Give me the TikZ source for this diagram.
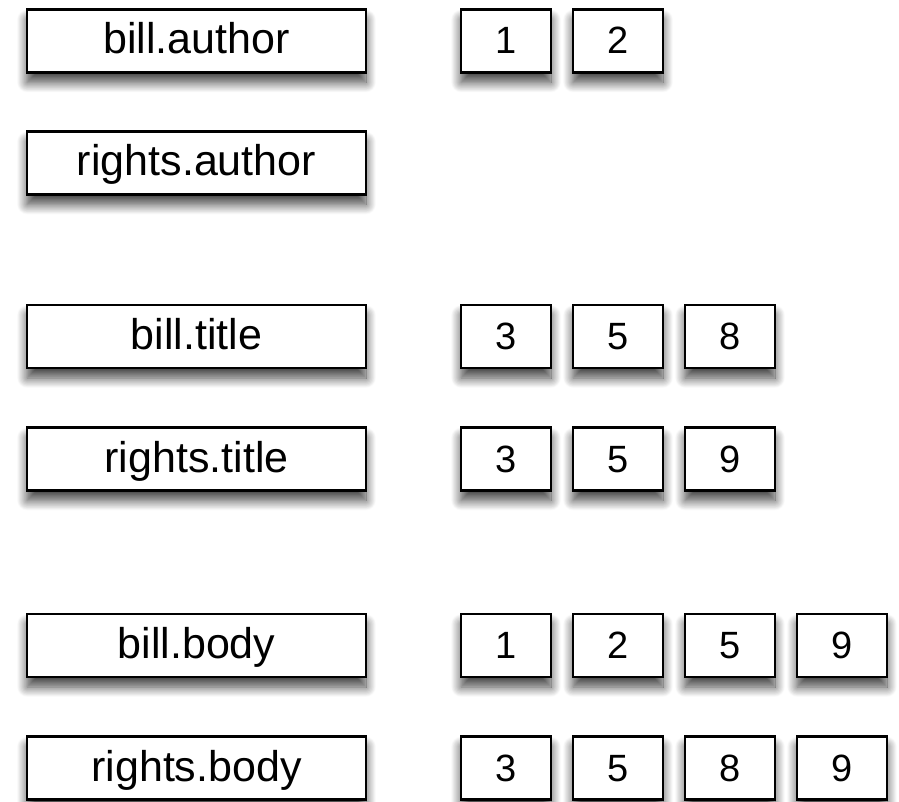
\documentclass[tikz,border=0pt]{standalone}
\usepackage{fontspec}
\setmainfont{Liberation Sans}
\usetikzlibrary{shadows.blur}
\begin{document}
\begin{tikzpicture}[x=1pt,y=-1pt,
  boxstyle/.style={draw=black,line width=2.2pt,fill=white,
    blur shadow={shadow xshift=0pt,shadow yshift=-10pt,shadow blur radius=10pt,shadow opacity=75,shadow blur steps=16},
    inner sep=0pt,text height=30pt,text depth=4pt},
  wide/.style={boxstyle,minimum width=339pt,minimum height=63pt,font=\fontsize{43}{43}\selectfont},
  small/.style={boxstyle,minimum width=90pt,minimum height=63pt,font=\fontsize{38}{38}\selectfont}]
\useasboundingbox (0,0) rectangle (899,802);
% rows (centre y)
\node[wide] (ba) at (196.5,41) {bill.author};
\node[wide] (ra) at (196.5,163) {rights.author};
\node[wide] (bt) at (196.5,336.5) {bill.title};
\node[wide] (rt) at (196.5,459) {rights.title};
\node[wide] (bb) at (196.5,645.5) {bill.body};
\node[wide] (rb) at (196.5,768) {rights.body};
% numbers
\node[small] (ba1) at (506,41) {1};
\node[small] (ba2) at (618,41) {2};
\node[small] (bt1) at (506,336.5) {3};
\node[small] (bt2) at (618,336.5) {5};
\node[small] (bt3) at (730,336.5) {8};
\node[small] (rt1) at (506,459) {3};
\node[small] (rt2) at (618,459) {5};
\node[small] (rt3) at (730,459) {9};
\node[small] (bb1) at (506,645.5) {1};
\node[small] (bb2) at (618,645.5) {2};
\node[small] (bb3) at (730,645.5) {5};
\node[small] (bb4) at (842,645.5) {9};
\node[small] (rb1) at (506,768) {3};
\node[small] (rb2) at (618,768) {5};
\node[small] (rb3) at (730,768) {8};
\node[small] (rb4) at (842,768) {9};
\end{tikzpicture}
\end{document}
